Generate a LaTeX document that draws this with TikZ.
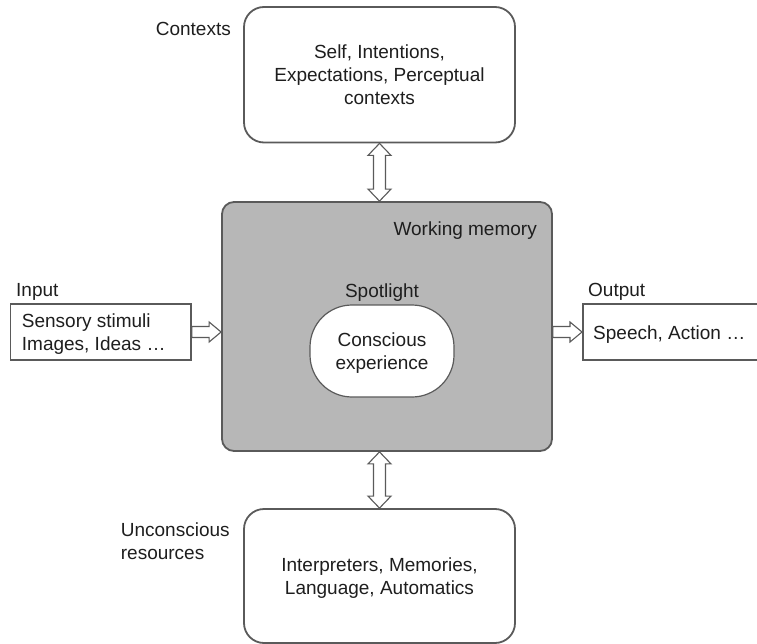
\documentclass[tikz,border=0pt]{standalone}
\usepackage{fontspec}
\setmainfont{Liberation Sans}
\usetikzlibrary{calc,backgrounds}
\definecolor{edge}{HTML}{5A5A5A}
\definecolor{wmfill}{HTML}{B7B7B7}
\definecolor{ink}{HTML}{1E1E1E}
\begin{document}
\begin{tikzpicture}[x=1pt,y=-1pt,
  every node/.style={font=\fontsize{19pt}{23pt}\selectfont, text=ink},
  box/.style={draw=edge, line width=1.8pt, fill=white, inner sep=0pt},
  lbl/.style={inner sep=0pt},
  arr/.style={draw=edge, line width=1.1pt, fill=white, line join=miter}]
\useasboundingbox (0,0) rectangle (757,644);
% boxes
\node[box, rounded corners=20pt, minimum width=271pt, minimum height=135.5pt, align=center] (ctx) at (379.5,74.75) {Self, Intentions,\\Expectations, Perceptual\\contexts};
\node[box, fill=wmfill, rounded corners=12pt, minimum width=330pt, minimum height=249pt] (wm) at (387,326.5) {};
\node[box, line width=1.2pt, rounded corners=42pt, minimum width=144pt, minimum height=92pt, align=center, text depth=0pt] (ce) at (382,351) {Conscious\\experience};
\node[box, rounded corners=20pt, minimum width=271pt, minimum height=134pt, align=center, text depth=0pt] (unc) at (379.5,576) {Interpreters, Memories,\\Language, Automatics};
\node[box, line width=1.6pt, minimum width=180.4pt, minimum height=56pt] (in) at (100.8,332) {};
\node[box, line width=1.6pt, minimum width=190pt, minimum height=56pt, anchor=west] (out) at (582,332) {};
% texts of the side boxes
\node[lbl, anchor=north west, align=left] (intext) at (21.7,313.6) {Sensory stimuli\\Images, Ideas …};
\node[lbl, anchor=base west] (outtext) at (593,339.5) {Speech, Action …};
% labels
\node[lbl, anchor=base east] (ctxl) at (231,36) {Contexts};
\node[lbl, anchor=base east] (wml) at (537,236) {Working memory};
\node[lbl, anchor=base] (spl) at (382,297) {Spotlight};
\node[lbl, anchor=base west] (inl) at (16,296) {Input};
\node[lbl, anchor=base west] (outl) at (588,296) {Output};
\node[lbl, anchor=north west, align=left] (uncl) at (120.7,522.4) {Unconscious\\resources};
% arrows
\begin{scope}[on background layer]
\draw[arr] let \p1=(in.east), \p2=(wm.west) in
  (\x1,\y1+5.5pt) -- (\x2-12pt,\y1+5.5pt) -- (\x2-12pt,\y1+10pt) -- (\x2,\y1)
  -- (\x2-12pt,\y1-10pt) -- (\x2-12pt,\y1-5.5pt) -- (\x1,\y1-5.5pt) -- cycle;
\draw[arr] let \p1=(wm.east), \p2=(out.west) in
  (\x1,\y2+5.5pt) -- (\x2-12pt,\y2+5.5pt) -- (\x2-12pt,\y2+10pt) -- (\x2,\y2)
  -- (\x2-12pt,\y2-10pt) -- (\x2-12pt,\y2-5.5pt) -- (\x1,\y2-5.5pt) -- cycle;
\draw[arr] let \p1=(ctx.south), \p2=(wm.north) in
  (\x1,\y1) -- (\x1+11.5pt,\y1-12pt) -- (\x1+6pt,\y1-12pt) -- (\x1+6pt,\y2+12pt)
  -- (\x1+11.5pt,\y2+12pt) -- (\x1,\y2) -- (\x1-11.5pt,\y2+12pt) -- (\x1-6pt,\y2+12pt)
  -- (\x1-6pt,\y1-12pt) -- (\x1-11.5pt,\y1-12pt) -- cycle;
\draw[arr] let \p1=(unc.north), \p2=(wm.south) in
  (\x1,\y2) -- (\x1+11.5pt,\y2-12pt) -- (\x1+6pt,\y2-12pt) -- (\x1+6pt,\y1+12pt)
  -- (\x1+11.5pt,\y1+12pt) -- (\x1,\y1) -- (\x1-11.5pt,\y1+12pt) -- (\x1-6pt,\y1+12pt)
  -- (\x1-6pt,\y2-12pt) -- (\x1-11.5pt,\y2-12pt) -- cycle;
\end{scope}
\end{tikzpicture}
\end{document}
